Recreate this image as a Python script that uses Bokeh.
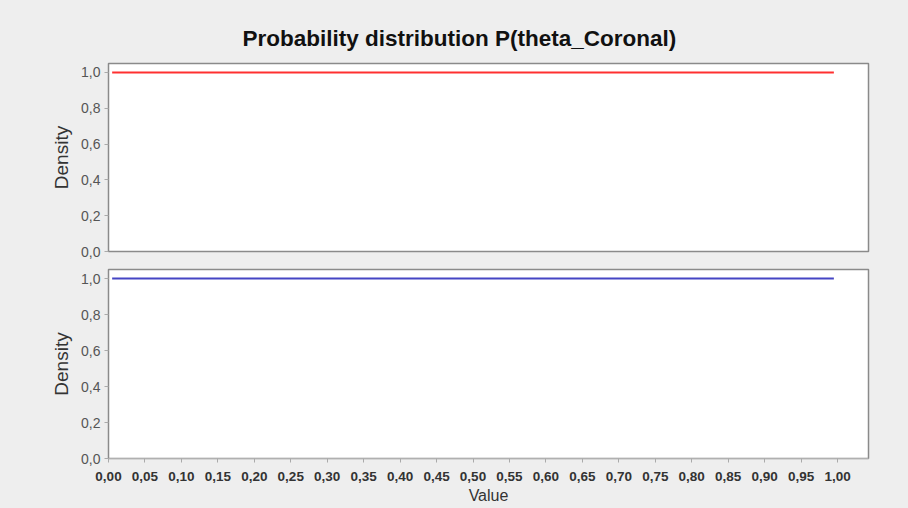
from bokeh.plotting import figure
from bokeh.layouts import column
from bokeh.models import FixedTicker, CustomJSTickFormatter, Range1d
from bokeh.embed import file_html
from bokeh.resources import INLINE

# ---- data ----
title_text = "Probability distribution P(theta_Coronal)"
x_label = "Value"
y_label = "Density"
x_ticks = [0.00, 0.05, 0.10, 0.15, 0.20, 0.25, 0.30, 0.35, 0.40, 0.45, 0.50,
           0.55, 0.60, 0.65, 0.70, 0.75, 0.80, 0.85, 0.90, 0.95, 1.00]
y_ticks = [0.0, 0.2, 0.4, 0.6, 0.8, 1.0]
top_x = [0.005, 0.995]
top_y = [1.0, 1.0]
bottom_x = [0.005, 0.995]
bottom_y = [1.0, 1.0]

BG = "#eeeeee"
FONT = "Liberation Sans"

x_range = Range1d(0.0, 1.0425)

xfmt = CustomJSTickFormatter(code="return tick.toFixed(2).replace('.', ',');")
yfmt = CustomJSTickFormatter(code="return tick.toFixed(1).replace('.', ',');")


def style(p):
    p.background_fill_color = "white"
    p.border_fill_color = BG
    p.outline_line_color = "#8a8a8a"
    p.outline_line_width = 1.5
    p.xgrid.visible = False
    p.ygrid.visible = False
    ya = p.yaxis[0]
    ya.ticker = FixedTicker(ticks=y_ticks)
    ya.formatter = yfmt
    ya.axis_label = y_label
    ya.axis_label_text_font = FONT
    ya.axis_label_text_font_size = "19px"
    ya.axis_label_text_font_style = "normal"
    ya.axis_label_text_color = "#333333"
    ya.axis_label_standoff = 6
    ya.major_label_text_font = FONT
    ya.major_label_text_font_size = "14px"
    ya.major_label_text_color = "#555555"
    ya.major_label_standoff = 4
    ya.axis_line_color = None
    ya.major_tick_line_color = "#aaaaaa"
    ya.major_tick_in = 0
    ya.major_tick_out = 4
    ya.minor_tick_line_color = None


p1 = figure(width=908, height=260, x_range=x_range, y_range=Range1d(0, 1.05),
            output_backend="svg", toolbar_location=None,
            min_border_left=108, min_border_right=40, min_border_top=63,
            min_border_bottom=9)
style(p1)
p1.xaxis.visible = False
p1.title.text = title_text
p1.title.text_font = FONT
p1.title.text_font_size = "22.5px"
p1.title.text_font_style = "bold"
p1.title.text_color = "#111111"
p1.title.align = "left"
p1.title.offset = 134
p1.title.standoff = 26
p1.line(top_x, top_y, line_color="#ff3030", line_width=2)

p2 = figure(width=908, height=248, x_range=x_range, y_range=Range1d(0, 1.05),
            output_backend="svg", toolbar_location=None,
            min_border_left=108, min_border_right=40, min_border_top=9,
            min_border_bottom=50)
style(p2)
xa = p2.xaxis[0]
xa.ticker = FixedTicker(ticks=x_ticks)
xa.formatter = xfmt
xa.axis_label = x_label
xa.axis_label_text_font = FONT
xa.axis_label_text_font_size = "16px"
xa.axis_label_text_font_style = "normal"
xa.axis_label_text_color = "#333333"
xa.axis_label_standoff = 3
xa.major_label_text_font = FONT
xa.major_label_text_font_size = "13.5px"
xa.major_label_text_font_style = "bold"
xa.major_label_text_color = "#333333"
xa.major_label_standoff = 9
xa.axis_line_color = "#b0b0b0"
xa.major_tick_line_color = "#aaaaaa"
xa.major_tick_in = 0
xa.major_tick_out = 4
xa.minor_tick_line_color = None
p2.line(bottom_x, bottom_y, line_color="#4545c4", line_width=2)

layout = column(p1, p2, spacing=0, styles={"background-color": BG})

open("out.html", "w").write(file_html(layout, INLINE))
